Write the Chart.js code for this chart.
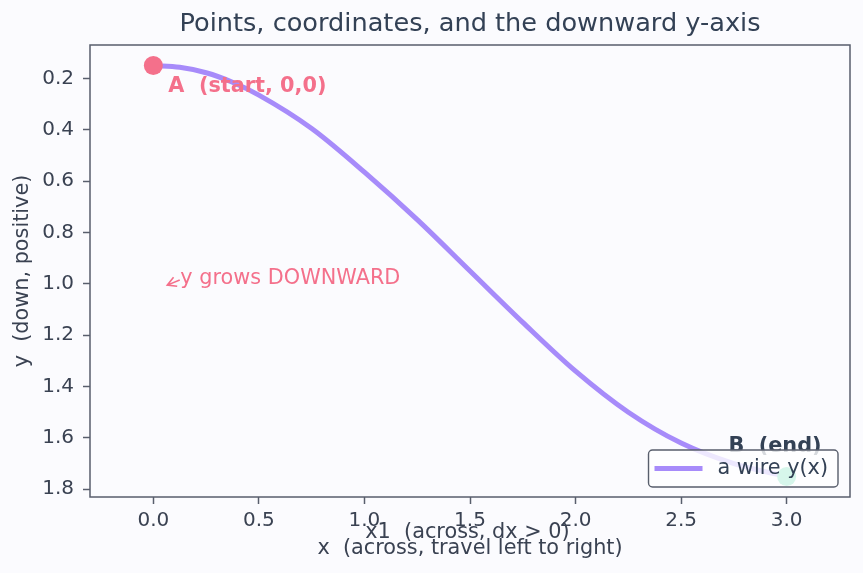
<!DOCTYPE html>
<html>
<head>
<meta charset="utf-8">
<script src="https://cdn.jsdelivr.net/npm/chart.js@4.4.1/dist/chart.umd.min.js"></script>
<style>
html,body{margin:0;padding:0;background:#fbfbfe;}
canvas{display:block;}
</style>
</head>
<body>
<canvas id="c" width="863" height="573"></canvas>
<script>
// wire y(x)
var wireX=[0,0.125,0.25,0.375,0.5,0.75,1.0,1.25,1.5,1.75,2.0,2.25,2.5,2.75,3.0];
var wireY=[0.15,0.157,0.178,0.215,0.265,0.395,0.565,0.75,0.95,1.15,1.34,1.50,1.62,1.70,1.75];
var startX=[0], startY=[0.15];
var endX=[3], endY=[1.75];
var xTicks=[0,0.5,1.0,1.5,2.0,2.5,3.0];
var yTicks=[0.2,0.4,0.6,0.8,1.0,1.2,1.4,1.6,1.8];
var titleText='Points, coordinates, and the downward y-axis';
var noteText=['A  (start, 0,0)','B  (end)','y grows DOWNWARD','x1  (across, dx > 0)'];
var noteX=[0.071,2.724,0.128,1.004];
var noteY=[0.231,1.635,0.978,1.968];

var INK='#334155', TXT='#3a4252', PINK='#f4708b', WIRE='#a78bfa', MINT='#34d399', FRAME='#585e6c';
var FONT='"DejaVu Sans", sans-serif';

function pts(xs,ys){return xs.map(function(x,i){return {x:x,y:ys[i]};});}

var extras={
    id:'extras',
    beforeDraw:function(chart){
        var ctx=chart.ctx;
        ctx.save();ctx.fillStyle='#fbfbfe';ctx.fillRect(0,0,chart.width,chart.height);ctx.restore();
    },
    afterDatasetsDraw:function(chart){
        var ctx=chart.ctx, a=chart.chartArea, xs=chart.scales.x, ys=chart.scales.y;
        ctx.save();
        // frame
        ctx.strokeStyle=FRAME;ctx.lineWidth=1.5;
        ctx.strokeRect(a.left,a.top,a.right-a.left,a.bottom-a.top);
        // notes
        ctx.textBaseline='middle';ctx.textAlign='left';
        var styles=[
            {font:'bold 20.8px '+FONT,color:PINK},
            {font:'bold 20.8px '+FONT,color:INK},
            {font:'20.8px '+FONT,color:PINK},
            {font:'20.8px '+FONT,color:TXT}
        ];
        noteText.forEach(function(t,i){
            ctx.font=styles[i].font;ctx.fillStyle=styles[i].color;
            ctx.fillText(t,xs.getPixelForValue(noteX[i]),ys.getPixelForValue(noteY[i]));
        });
        // arrow for "y grows DOWNWARD"
        var tx=xs.getPixelForValue(0.066), ty=ys.getPixelForValue(1.005);
        var fx=xs.getPixelForValue(0.125), fy=ys.getPixelForValue(0.985);
        var ang=Math.atan2(fy-ty,fx-tx), L=10;
        ctx.strokeStyle=PINK;ctx.lineWidth=1.6;
        ctx.beginPath();
        ctx.moveTo(fx,fy);ctx.lineTo(tx,ty);
        ctx.moveTo(tx+L*Math.cos(ang-0.5),ty+L*Math.sin(ang-0.5));
        ctx.lineTo(tx,ty);
        ctx.lineTo(tx+L*Math.cos(ang+0.5),ty+L*Math.sin(ang+0.5));
        ctx.stroke();
        ctx.restore();
    },
    afterDraw:function(chart){
        var ctx=chart.ctx, a=chart.chartArea;
        ctx.save();
        // title centred over the plot
        ctx.font='25.6px '+FONT;ctx.fillStyle=INK;ctx.textAlign='center';ctx.textBaseline='middle';
        ctx.fillText(titleText,(a.left+a.right)/2,24);
        // legend box, lower right inside the plot
        ctx.font='20.8px '+FONT;ctx.textAlign='left';
        var label=chart.data.datasets[0].label;
        var tw=ctx.measureText(label).width;
        var w=69+tw+10, h=37;
        var x0=a.right-12-w, y0=a.bottom-10-h;
        ctx.beginPath();
        ctx.roundRect(x0,y0,w,h,4);
        ctx.fillStyle='rgba(255,255,255,0.8)';ctx.fill();
        ctx.strokeStyle=FRAME;ctx.lineWidth=1.4;ctx.stroke();
        ctx.strokeStyle=WIRE;ctx.lineWidth=5;
        ctx.beginPath();ctx.moveTo(x0+6,y0+h/2);ctx.lineTo(x0+54,y0+h/2);ctx.stroke();
        ctx.fillStyle=INK;
        ctx.fillText(label,x0+69,y0+h/2);
        ctx.restore();
    }
};

new Chart(document.getElementById('c').getContext('2d'),{
    type:'scatter',
    data:{datasets:[
        {label:'a wire y(x)',data:pts(wireX,wireY),showLine:true,borderColor:WIRE,borderWidth:5,pointRadius:0,cubicInterpolationMode:'monotone',borderCapStyle:'round',order:3},
        {label:'A',data:pts(startX,startY),backgroundColor:PINK,borderColor:PINK,pointRadius:9.5,borderWidth:0,order:2},
        {label:'B',data:pts(endX,endY),backgroundColor:MINT,borderColor:MINT,pointRadius:9.5,borderWidth:0,order:1}
    ]},
    options:{
        responsive:false,animation:false,devicePixelRatio:1,
        layout:{padding:{left:0,right:13,top:45,bottom:0}},
        plugins:{
            legend:{display:false},
            tooltip:{enabled:false},
            title:{display:false}
        },
        scales:{
            x:{type:'linear',min:-0.3,max:3.3,
                afterFit:function(s){s.height=76;},
                afterBuildTicks:function(s){s.ticks=xTicks.map(function(v){return {value:v};});},
                ticks:{color:TXT,font:{family:FONT,size:20},padding:5,maxRotation:0,
                    callback:function(v){return v.toFixed(1);}},
                grid:{drawOnChartArea:false,drawTicks:true,tickLength:7,tickColor:FRAME,tickWidth:1.5},
                border:{display:false},
                title:{display:true,text:'x  (across, travel left to right)',color:TXT,
                    font:{family:FONT,size:20.8},padding:{top:0,bottom:11.5}}
            },
            y:{type:'linear',reverse:true,min:0.07,max:1.83,
                afterFit:function(s){s.width=90;},
                afterBuildTicks:function(s){s.ticks=yTicks.map(function(v){return {value:v};});},
                ticks:{color:TXT,font:{family:FONT,size:20},padding:9,
                    callback:function(v){return v.toFixed(1);}},
                grid:{drawOnChartArea:false,drawTicks:true,tickLength:7,tickColor:FRAME,tickWidth:1.5},
                border:{display:false},
                title:{display:true,text:'y  (down, positive)',color:TXT,
                    font:{family:FONT,size:20.8},padding:{top:10.5,bottom:0}}
            }
        }
    },
    plugins:[extras]
});
</script>
</body>
</html>
